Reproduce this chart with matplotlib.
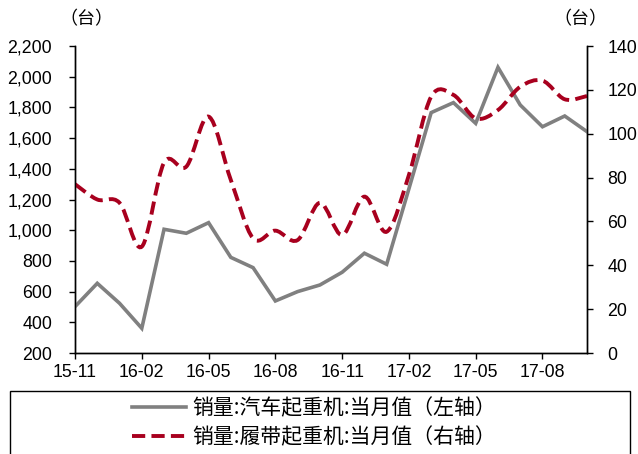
import numpy as np
import matplotlib
matplotlib.use('Agg')
import matplotlib.pyplot as plt
from matplotlib.path import Path
from matplotlib.patches import PathPatch, Rectangle
from matplotlib.lines import Line2D

months = ['15-11', '15-12', '16-01', '16-02', '16-03', '16-04', '16-05', '16-06',
          '16-07', '16-08', '16-09', '16-10', '16-11', '16-12', '17-01', '17-02',
          '17-03', '17-04', '17-05', '17-06', '17-07', '17-08', '17-09', '17-10']
# left axis: truck crane monthly sales
truck_crane = [502, 654, 524, 361, 1006, 980, 1049, 823, 756, 539, 600, 643,
               726, 850, 778, 1270, 1766, 1831, 1696, 2061, 1816, 1674, 1744, 1642]
# right axis: crawler crane monthly sales
crawler_crane = [77, 70, 68.5, 48.5, 86.8, 85, 107.8, 78.9, 52.3, 55.8, 51.5, 68.5,
                 53.8, 71.3, 55.3, 81.2, 116.9, 117.7, 107, 110.8, 121.4, 124.2, 115.7, 117.2]
left_ticks = [200, 400, 600, 800, 1000, 1200, 1400, 1600, 1800, 2000, 2200]
right_ticks = [0, 20, 40, 60, 80, 100, 120, 140]

label_truck = '销量:汽车起重机:当月值（左轴）'
label_crawler = '销量:履带起重机:当月值（右轴）'
unit = '（台）'

gray = '#808080'
red = '#A8001E'
cjk = ['Noto Sans CJK SC', 'DejaVu Sans']

plt.rcParams['font.family'] = ['Liberation Sans', 'DejaVu Sans']


def smooth_path(x, y):
    # catmull-rom through the points, as cubic bezier segments
    x = np.asarray(x, float)
    y = np.asarray(y, float)
    pts = np.column_stack([x, y])
    verts = [pts[0]]
    codes = [Path.MOVETO]
    n = len(pts)
    for i in range(n - 1):
        p0 = pts[i - 1] if i > 0 else pts[i]
        p1 = pts[i]
        p2 = pts[i + 1]
        p3 = pts[i + 2] if i + 2 < n else pts[i + 1]
        c1 = p1 + (p2 - p0) / 6.0
        c2 = p2 - (p3 - p1) / 6.0
        verts += [c1, c2, p2]
        codes += [Path.CURVE4] * 3
    return Path(verts, codes)


fig = plt.figure(figsize=(6.38, 4.54), dpi=100)
ax = fig.add_axes([75 / 638, 1 - 353 / 454, 512 / 638, 307 / 454])
ax2 = ax.twinx()

x = np.arange(len(months))
ax.plot(x, truck_crane, color=gray, lw=2.6, solid_joinstyle='miter', zorder=3)

patch = PathPatch(smooth_path(x, crawler_crane), fill=False, edgecolor=red,
                  lw=2.8, linestyle=(0, (3.4, 1.6)), capstyle='butt')
ax2.add_patch(patch)

ax.set_xlim(0, len(months) - 1)
ax.set_ylim(200, 2200)
ax2.set_ylim(0, 140)

ax.set_xticks(x[::3])
ax.set_xticklabels(months[::3])
ax.set_yticks(left_ticks)
ax.set_yticklabels(['{:,}'.format(v) for v in left_ticks])
ax2.set_yticks(right_ticks)

for a in (ax, ax2):
    a.spines['top'].set_visible(False)
    for s in a.spines.values():
        s.set_linewidth(1.0)
ax.tick_params(axis='x', direction='out', length=4, width=1, labelsize=12.8, pad=4)
ax.tick_params(axis='y', direction='out', length=4.5, width=1, labelsize=12.8, pad=12)
ax2.tick_params(axis='y', direction='out', length=4.5, width=1, labelsize=12.8, pad=10)

fig.text(86 / 638, 1 - 19 / 454, unit, ha='center', va='center', fontsize=13, family=cjk)
fig.text(580 / 638, 1 - 19 / 454, unit, ha='center', va='center', fontsize=13, family=cjk)

# legend box, bottom edge runs off the figure
fig.patches.append(Rectangle((10 / 638, -0.05), 620 / 638, 0.05 + (454 - 391) / 454,
                             transform=fig.transFigure, fill=False,
                             edgecolor='black', lw=1.0))
handles = [Line2D([], [], color=gray, lw=2.6),
           Line2D([], [], color=red, lw=2.8, linestyle=(0, (3.4, 1.6)))]
fig.legend(handles, [label_truck, label_crawler], loc='center',
           bbox_to_anchor=(314 / 638, 1 - 423 / 454), frameon=False,
           prop={'family': cjk, 'size': 15}, handlelength=2.6,
           handletextpad=0.3, labelspacing=0.35, borderaxespad=0)

fig.savefig('out.png', dpi=100)
